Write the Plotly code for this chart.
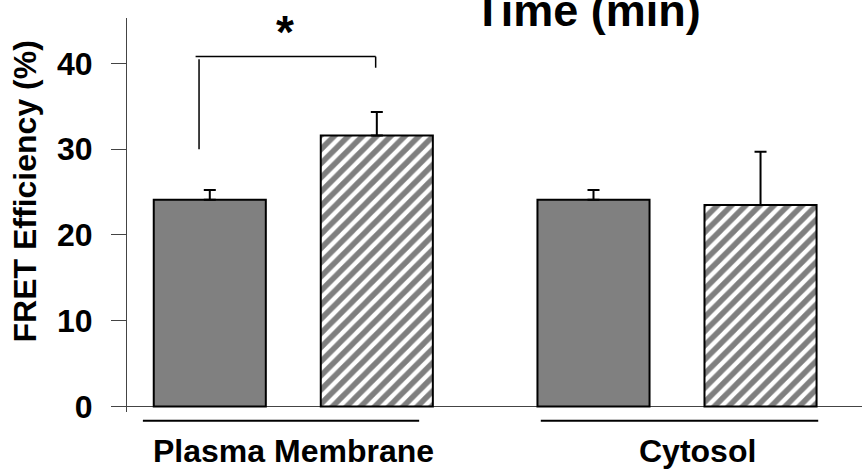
import plotly.graph_objects as go

# ---- data ----
categories = ["Plasma Membrane", "Cytosol"]
control_values = [24.1, 24.1]
control_err = [1.15, 1.15]
treated_values = [31.6, 23.5]
treated_err = [2.75, 6.2]
y_ticks = [0, 10, 20, 30, 40]
y_title = "FRET Efficiency (%)"
top_title = "Time (min)"
sig_label = "*"
sig_bracket_y = 40.8
sig_left_bottom = 30.0
sig_right_bottom = 39.5

FONT = "Liberation Sans, Arial, sans-serif"
BARGAP = 0.1294
BARGROUPGAP = 0.329
slot = (1 - BARGAP) / 2
off = slot / 2  # bar centre offset from category centre

fig = go.Figure()
fig.add_trace(go.Bar(
    x=categories, y=control_values, name="control",
    marker=dict(color="#808080", line=dict(color="black", width=2)),
    error_y=dict(type="data", symmetric=False, array=control_err,
                 arrayminus=[0] * len(control_err), color="black",
                 thickness=2, width=6),
))
fig.add_trace(go.Bar(
    x=categories, y=treated_values, name="treated",
    marker=dict(color="white", line=dict(color="black", width=2),
                pattern=dict(shape="/", fgcolor="black", bgcolor="white",
                             size=10, solidity=0.55)),
    error_y=dict(type="data", symmetric=False, array=treated_err,
                 arrayminus=[0] * len(treated_err), color="black",
                 thickness=2, width=6),
))

shapes = []
# significance bracket between the two Plasma Membrane bars
lx = -off - 0.028
rx = off - 0.003
lc = dict(color="black", width=1.5)
shapes.append(dict(type="line", xref="x", yref="y", x0=lx - 0.009, x1=rx,
                   y0=sig_bracket_y, y1=sig_bracket_y, line=lc))
shapes.append(dict(type="line", xref="x", yref="y", x0=lx, x1=lx,
                   y0=sig_left_bottom, y1=sig_bracket_y - 0.3, line=lc))
shapes.append(dict(type="line", xref="x", yref="y", x0=rx, x1=rx,
                   y0=sig_right_bottom, y1=sig_bracket_y, line=lc))
# group underlines
under = [(-0.392, 0.328), (-0.355, 0.368)]
for i, (a, b) in enumerate(under):
    shapes.append(dict(type="line", xref="x", yref="paper", x0=i + a, x1=i + b,
                       y0=-0.0221, y1=-0.0221, line=dict(color="black", width=2)))

annotations = []
label_shift = [0, 20]
for i, c in enumerate(categories):
    annotations.append(dict(text=c, xref="x", yref="paper", x=i, y=-0.098,
                            xshift=label_shift[i], showarrow=False,
                            xanchor="center", yanchor="middle",
                            font=dict(family=FONT, size=32, color="black",
                                      weight="bold")))
annotations.append(dict(text=y_title, xref="paper", yref="paper",
                        x=-0.1395, y=0.561, textangle=-90, showarrow=False,
                        xanchor="center", yanchor="middle",
                        font=dict(family=FONT, size=32, color="black",
                                  weight="bold")))
annotations.append(dict(text=sig_label, xref="x", yref="paper",
                        x=-0.0216, y=0.965, showarrow=False,
                        xanchor="center", yanchor="middle",
                        font=dict(family=FONT, size=46, color="black",
                                  weight="bold")))
annotations.append(dict(text=top_title, xref="paper", yref="paper",
                        x=0.6265, y=1.02, showarrow=False,
                        xanchor="center", yanchor="middle",
                        font=dict(family=FONT, size=45, color="black",
                                  weight="bold")))

fig.update_layout(
    width=862, height=469,
    margin=dict(l=127, r=0, t=18, b=57),
    paper_bgcolor="white", plot_bgcolor="white",
    barmode="group", bargap=BARGAP, bargroupgap=BARGROUPGAP,
    showlegend=False,
    shapes=shapes, annotations=annotations,
    xaxis=dict(range=[-0.4334, 1.4821], showticklabels=False, ticks="",
               showgrid=False, showline=False, zeroline=False),
    yaxis=dict(range=[-0.64, 45.3], tickvals=y_ticks, ticks="outside",
               ticklen=15, tickwidth=1, tickcolor="#444",
               showline=True, linecolor="#444", linewidth=1,
               zeroline=True, zerolinecolor="#444", zerolinewidth=1,
               showgrid=False, ticklabelstandoff=12,
               tickfont=dict(family=FONT, size=32, color="black",
                             weight="bold")),
)

fig.write_html("out.html")
